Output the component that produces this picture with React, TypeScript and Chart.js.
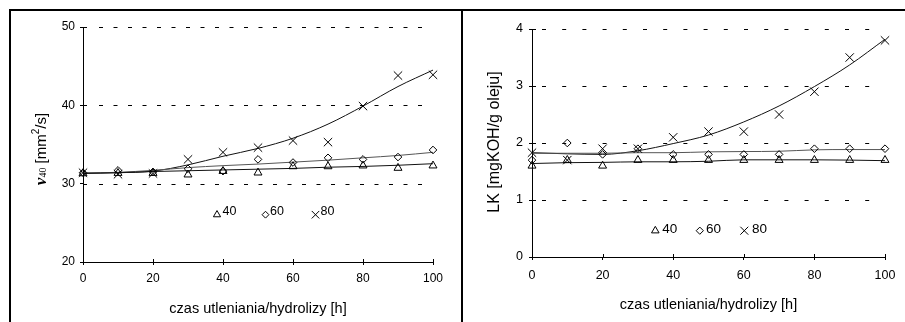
import React, { useEffect, useRef } from 'react';
import { Chart, registerables } from 'chart.js';

Chart.register(...registerables);

// ---------- data ----------
const hours = [0, 10, 20, 30, 40, 50, 60, 70, 80, 90, 100];
const hourTicks = [0, 20, 40, 60, 80, 100];
const seriesLabels = ['40', '60', '80'];

// left panel: kinematic viscosity at 40 °C [mm2/s]
const visc40 = [31.3, 31.35, 31.35, 31.15, 31.6, 31.4, 32.2, 32.2, 32.3, 32.0, 32.3];
const visc60 = [31.4, 31.7, 31.5, 31.9, 31.6, 33.1, 32.7, 33.3, 33.1, 33.4, 34.3];
const visc80 = [31.4, 31.2, 31.3, 33.1, 34.0, 34.6, 35.5, 35.3, 39.9, 43.8, 43.9];
const viscTrend40 = [31.3, 31.4, 31.55, 31.65, 31.75, 31.85, 31.95, 32.1, 32.2, 32.35, 32.55];
const viscTrend60 = [31.35, 31.45, 31.7, 32.05, 32.3, 32.5, 32.75, 33.0, 33.3, 33.6, 34.0];
const viscTrend80 = [31.35, 31.4, 31.6, 32.4, 33.5, 34.5, 35.8, 37.6, 39.9, 42.4, 44.5];
const viscTicks = [20, 30, 40, 50];

// right panel: acid number LK [mgKOH/g oleju]
const lk40 = [1.6, 1.7, 1.6, 1.7, 1.7, 1.7, 1.7, 1.7, 1.7, 1.7, 1.7];
const lk60 = [1.7, 2.0, 1.8, 1.9, 1.8, 1.8, 1.8, 1.8, 1.9, 1.9, 1.9];
const lk80 = [1.83, 1.7, 1.9, 1.9, 2.1, 2.2, 2.2, 2.5, 2.9, 3.5, 3.8];
const lkTrend40 = [1.64, 1.655, 1.66, 1.67, 1.67, 1.68, 1.705, 1.705, 1.705, 1.7, 1.69];
const lkTrend60 = [1.82, 1.82, 1.82, 1.83, 1.83, 1.845, 1.85, 1.855, 1.88, 1.885, 1.885];
const lkTrend80 = [1.83, 1.81, 1.8, 1.865, 1.99, 2.14, 2.37, 2.65, 2.99, 3.37, 3.82];
const lkTicks = [0, 1, 2, 3, 4];

const xTitle = 'czas utleniania/hydrolizy [h]';

// ---------- styling / layout ----------
const SANS = "'Liberation Sans', Arial, sans-serif";
const SERIF = "'Liberation Serif', 'DejaVu Serif', serif";
const markerStyles = ['triangle', 'rectRot', 'crossRot'];
const markerRadius = [4.6, 3.8, 5.9];
const trendColors = ['#111', '#555', '#111'];

type Seg = { text: string; font: string; dy: number };

type Panel = {
  points: number[][];
  trends: number[][];
  yTicks: number[];
  yMin: number;
  yMax: number;
  width: number;
  height: number;
  padTop: number;
  padRight: number;
  yAxisW: number;
  xAxisH: number;
  tickFont: number;
  xTickPad: number;
  yTickPad: number;
  dash: number[];
  gridStart: number;
  gridEndInset: number;
  yTitle: Seg[];
  yTitleX: number;
  yTitleY: number;
  xTitleY: number;
  xTitleFont: number;
  legendY: number;
  legendMarkerX: number[];
  legendTextX: number[];
  legendTextDy: number;
  legendFont: number;
  legendScale: number;
};

const leftPanel: Panel = {
  points: [visc40, visc60, visc80],
  trends: [viscTrend40, viscTrend60, viscTrend80],
  yTicks: viscTicks,
  yMin: 20,
  yMax: 50,
  width: 451,
  height: 311,
  padTop: 16,
  padRight: 29,
  yAxisW: 72,
  xAxisH: 60,
  tickFont: 12,
  xTickPad: 6,
  yTickPad: 5,
  dash: [4, 10.5],
  gridStart: 16,
  gridEndInset: 11,
  yTitle: [
    { text: 'ν', font: `bold italic 17px ${SERIF}`, dy: 0 },
    { text: '40', font: `10px ${SERIF}`, dy: 1 },
    { text: ' [mm', font: `15px ${SANS}`, dy: 0 },
    { text: '2', font: `10px ${SANS}`, dy: -6 },
    { text: '/s]', font: `15px ${SANS}`, dy: 0 },
  ],
  yTitleX: 31,
  yTitleY: 138,
  xTitleY: 297.5,
  xTitleFont: 14.5,
  legendY: 187.7,
  legendMarkerX: [134, 182.5, 232.5],
  legendTextX: [139.5, 187, 237.5],
  legendTextDy: -3.5,
  legendFont: 12.5,
  legendScale: 0.9,
};

const rightPanel: Panel = {
  points: [lk40, lk60, lk80],
  trends: [lkTrend40, lkTrend60, lkTrend80],
  yTicks: lkTicks,
  yMin: 0,
  yMax: 4,
  width: 441,
  height: 311,
  padTop: 18,
  padRight: 20,
  yAxisW: 68,
  xAxisH: 65,
  tickFont: 12.5,
  xTickPad: 8,
  yTickPad: 6,
  dash: [4, 16.2],
  gridStart: 10,
  gridEndInset: 0,
  yTitle: [{ text: 'LK [mgKOH/g oleju]', font: `16px ${SANS}`, dy: 0 }],
  yTitleX: 31,
  yTitleY: 131,
  xTitleY: 294,
  xTitleFont: 14.5,
  legendY: 201.7,
  legendMarkerX: [123.3, 167.8, 212.3],
  legendTextX: [130.3, 174, 220],
  legendTextDy: -1,
  legendFont: 13.5,
  legendScale: 0.95,
};

function drawMarker(ctx: CanvasRenderingContext2D, style: string, x: number, y: number, r: number) {
  ctx.beginPath();
  if (style === 'triangle') {
    ctx.moveTo(x, y - r);
    ctx.lineTo(x + 0.866 * r, y + 0.5 * r);
    ctx.lineTo(x - 0.866 * r, y + 0.5 * r);
    ctx.closePath();
  } else if (style === 'rectRot') {
    ctx.moveTo(x, y - r);
    ctx.lineTo(x + r, y);
    ctx.lineTo(x, y + r);
    ctx.lineTo(x - r, y);
    ctx.closePath();
  } else {
    const d = r * Math.SQRT1_2;
    ctx.moveTo(x - d, y - d);
    ctx.lineTo(x + d, y + d);
    ctx.moveTo(x + d, y - d);
    ctx.lineTo(x - d, y + d);
  }
  ctx.stroke();
}

function makeDecor(p: Panel) {
  return {
    id: 'decor',
    beforeDatasetsDraw(chart: any) {
      const { ctx, chartArea: a, scales } = chart;
      const y = scales.y;
      ctx.save();
      ctx.strokeStyle = '#000';
      ctx.lineWidth = 1;
      ctx.setLineDash(p.dash);
      for (const v of p.yTicks) {
        if (v === p.yMin) continue;
        const py = Math.round(y.getPixelForValue(v)) + 0.5;
        ctx.beginPath();
        ctx.moveTo(a.left + p.gridStart, py);
        ctx.lineTo(a.right - p.gridEndInset, py);
        ctx.stroke();
      }
      ctx.restore();
    },
    afterDraw(chart: any) {
      const { ctx, chartArea: a, scales } = chart;
      const x = scales.x;
      const y = scales.y;
      ctx.save();
      ctx.strokeStyle = '#000';
      ctx.fillStyle = '#000';
      ctx.lineWidth = 1;
      ctx.setLineDash([]);
      // inner halves of the crossing tick marks
      for (const v of hourTicks) {
        const px = Math.round(x.getPixelForValue(v)) + 0.5;
        ctx.beginPath();
        ctx.moveTo(px, a.bottom);
        ctx.lineTo(px, a.bottom - 3);
        ctx.stroke();
      }
      for (const v of p.yTicks) {
        const py = Math.round(y.getPixelForValue(v)) + 0.5;
        ctx.beginPath();
        ctx.moveTo(a.left, py);
        ctx.lineTo(a.left + 4, py);
        ctx.stroke();
      }
      // x title
      ctx.font = `${p.xTitleFont}px ${SANS}`;
      ctx.textAlign = 'center';
      ctx.textBaseline = 'middle';
      ctx.fillText(xTitle, (a.left + a.right) / 2, p.xTitleY);
      // y title (rotated, rich text)
      ctx.save();
      ctx.translate(p.yTitleX, p.yTitleY);
      ctx.rotate(-Math.PI / 2);
      ctx.textAlign = 'left';
      ctx.textBaseline = 'middle';
      let total = 0;
      const widths = p.yTitle.map((s) => {
        ctx.font = s.font;
        const w = ctx.measureText(s.text).width;
        total += w;
        return w;
      });
      let cx = -total / 2;
      p.yTitle.forEach((s, i) => {
        ctx.font = s.font;
        ctx.fillText(s.text, cx, s.dy);
        cx += widths[i];
      });
      ctx.restore();
      // legend inside plot area
      const ly = a.top + p.legendY;
      ctx.textAlign = 'left';
      ctx.textBaseline = 'middle';
      ctx.font = `${p.legendFont}px ${SANS}`;
      seriesLabels.forEach((lab, i) => {
        drawMarker(ctx, markerStyles[i], a.left + p.legendMarkerX[i], ly, markerRadius[i] * p.legendScale);
        ctx.fillText(lab, a.left + p.legendTextX[i], ly + p.legendTextDy);
      });
      ctx.restore();
    },
  };
}

function buildChart(canvas: HTMLCanvasElement, p: Panel) {
  const datasets: any[] = [];
  p.points.forEach((vals, i) => {
    datasets.push({
      label: seriesLabels[i],
      data: hours.map((h, k) => ({ x: h, y: vals[k] })),
      showLine: false,
      pointStyle: markerStyles[i],
      pointRadius: markerRadius[i],
      pointBorderColor: '#000',
      pointBackgroundColor: 'rgba(0,0,0,0)',
      pointBorderWidth: 1,
      clip: false,
      order: 1,
    });
  });
  p.trends.forEach((vals, i) => {
    datasets.push({
      label: 'trend ' + seriesLabels[i],
      data: hours.map((h, k) => ({ x: h, y: vals[k] })),
      showLine: true,
      borderColor: trendColors[i],
      borderWidth: 1,
      pointRadius: 0,
      cubicInterpolationMode: 'monotone',
      fill: false,
      clip: false,
      order: 2,
    });
  });

  const tickFont = { family: SANS, size: p.tickFont };
  return new Chart(canvas, {
    type: 'scatter',
    data: { datasets },
    options: {
      animation: false,
      responsive: false,
      maintainAspectRatio: false,
      layout: { padding: { left: 0, top: p.padTop, right: p.padRight, bottom: 0 } },
      plugins: { legend: { display: false }, tooltip: { enabled: false } },
      scales: {
        x: {
          type: 'linear',
          min: 0,
          max: 100,
          afterBuildTicks: (s: any) => {
            s.ticks = hourTicks.map((v) => ({ value: v }));
          },
          afterFit: (s: any) => {
            s.height = p.xAxisH;
          },
          ticks: { font: tickFont, color: '#000', padding: p.xTickPad, maxRotation: 0, autoSkip: false },
          grid: { display: true, drawOnChartArea: false, drawTicks: true, tickLength: 3, color: '#000', lineWidth: 1 },
          border: { display: true, color: '#000', width: 1 },
        },
        y: {
          type: 'linear',
          min: p.yMin,
          max: p.yMax,
          afterBuildTicks: (s: any) => {
            s.ticks = p.yTicks.map((v) => ({ value: v }));
          },
          afterFit: (s: any) => {
            s.width = p.yAxisW;
          },
          ticks: { font: tickFont, color: '#000', padding: p.yTickPad, autoSkip: false },
          grid: { display: true, drawOnChartArea: false, drawTicks: true, tickLength: 3, color: '#000', lineWidth: 1 },
          border: { display: true, color: '#000', width: 1 },
        },
      },
    } as any,
    plugins: [makeDecor(p)],
  });
}

function ChartPanel({ panel, left, top }: { panel: Panel; left: number; top: number }) {
  const ref = useRef<HTMLCanvasElement | null>(null);
  useEffect(() => {
    if (!ref.current) return;
    const chart = buildChart(ref.current, panel);
    return () => chart.destroy();
  }, [panel]);
  return (
    <canvas
      ref={ref}
      width={panel.width}
      height={panel.height}
      style={{ position: 'absolute', left, top, width: panel.width, height: panel.height }}
    />
  );
}

export default function App() {
  return (
    <div
      style={{
        position: 'fixed',
        left: 0,
        top: 0,
        width: 905,
        height: 322,
        background: '#fff',
        overflow: 'hidden',
      }}
    >
      {/* frame */}
      <div style={{ position: 'absolute', left: 9, top: 9, width: 896, height: 2, background: '#000' }} />
      <div style={{ position: 'absolute', left: 9, top: 9, width: 2, height: 313, background: '#000' }} />
      <div style={{ position: 'absolute', left: 461, top: 9, width: 2, height: 313, background: '#000' }} />
      <ChartPanel panel={leftPanel} left={11} top={11} />
      <ChartPanel panel={rightPanel} left={464} top={11} />
    </div>
  );
}
